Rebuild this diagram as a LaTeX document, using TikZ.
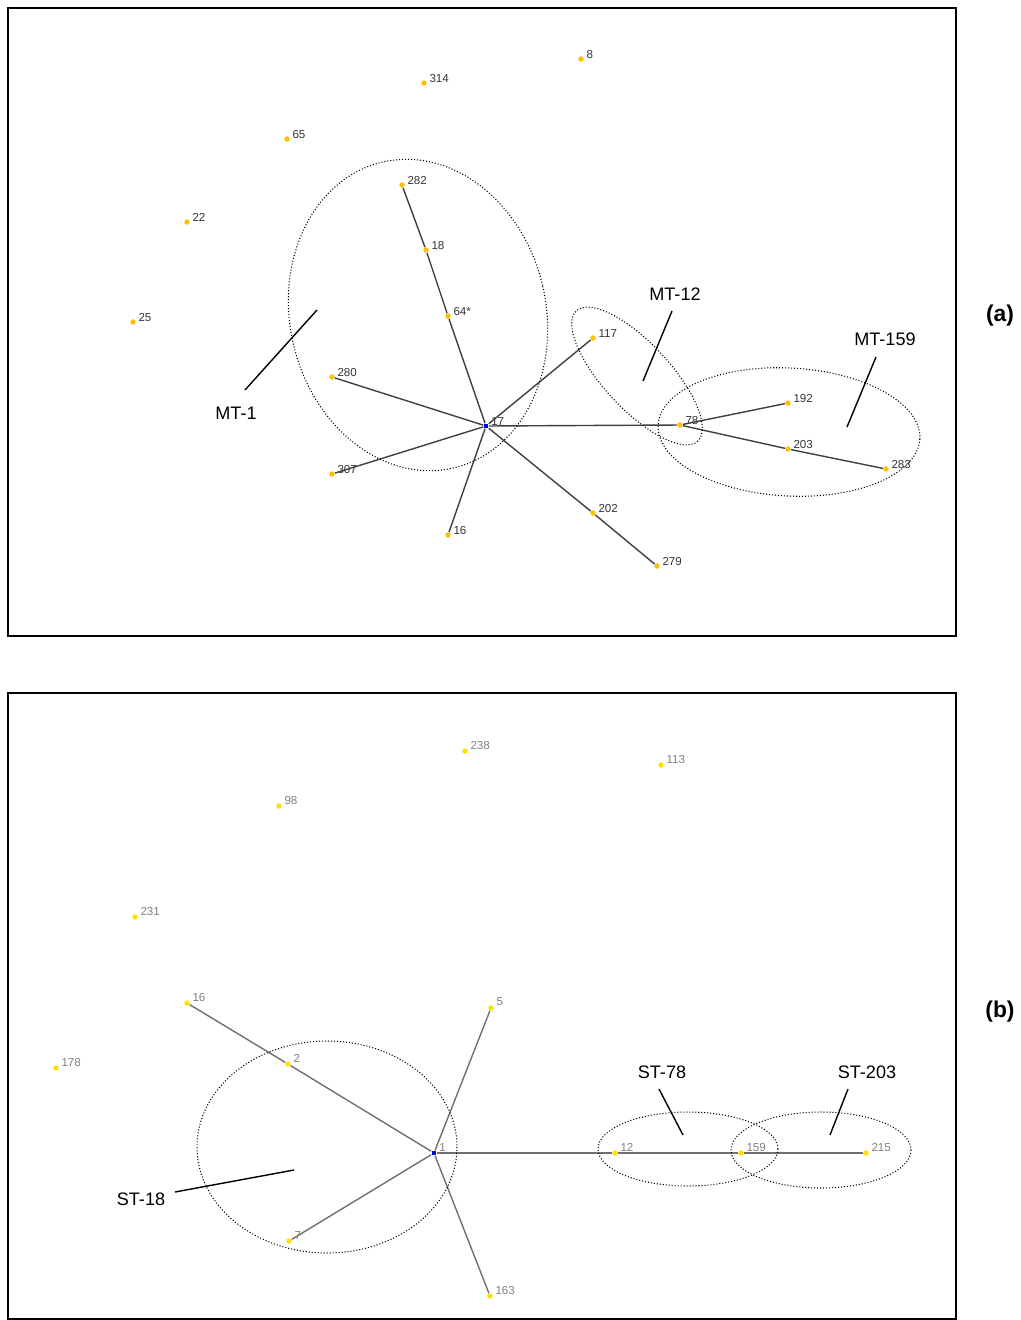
\documentclass[tikz,border=0pt]{standalone}
\usepackage{fontspec}
\setmainfont{Liberation Sans}
\definecolor{dota}{HTML}{FFC000}
\definecolor{dotb}{HTML}{FFE000}
\definecolor{edgea}{HTML}{404040}
\definecolor{edgeb}{HTML}{707070}
\begin{document}
\begin{tikzpicture}[x=0.02cm,y=-0.02cm,
    pta/.style={circle,fill=dota,inner sep=0pt,minimum size=3.1pt,
      label={[lbl]0:#1}},
    ptb/.style={circle,fill=dotb,inner sep=0pt,minimum size=3.1pt,
      label={[lblb]0:#1}},
    huba/.style={rectangle,fill=blue,inner sep=0pt,minimum size=2.8pt,
      label={[lbl]0:#1}},
    hubb/.style={rectangle,fill=blue,inner sep=0pt,minimum size=2.8pt,
      label={[lblb]0:#1}},
    lbl/.style={font=\fontsize{6.6}{7}\selectfont,text=black!80,inner sep=0pt,
      label distance=1.2pt,yshift=2.4pt},
    lblb/.style={lbl,text=black!50,yshift=1pt},
    ea/.style={edgea,line width=0.8pt},
    eb/.style={edgeb,line width=0.8pt},
    grp/.style={line width=0.6pt,dash pattern=on 0.6pt off 1.1pt},
    callout/.style={line width=0.8pt},
    mt/.style={font=\fontsize{10.3}{12}\selectfont},
    panel/.style={font=\fontsize{13}{15}\selectfont\bfseries}]
    \useasboundingbox (0,0) rectangle (1021,1320);
    % panel (a)
    \draw[line width=0.9pt] (8,8) rectangle (956,636);
    \node[pta=8] (a8) at (581,59) {};
    \node[pta=314] (a314) at (424,83) {};
    \node[pta=65] (a65) at (287,139) {};
    \node[pta=22] (a22) at (187,222) {};
    \node[pta=25] (a25) at (133,322) {};
    \node[pta=282] (a282) at (402,185) {};
    \node[pta=18] (a18) at (426,250) {};
    \node[pta=64*] (a64) at (448,316) {};
    \node[pta=280] (a280) at (332,377) {};
    \node[huba=17] (a17) at (486,426) {};
    \node[pta=307] (a307) at (332,474) {};
    \node[pta=16] (a16) at (448,535) {};
    \node[pta=117] (a117) at (593,338) {};
    \node[pta=78] (a78) at (680,425) {};
    \node[pta=192] (a192) at (788,403) {};
    \node[pta=203] (a203) at (788,449) {};
    \node[pta=283] (a283) at (886,469) {};
    \node[pta=202] (a202) at (593,513) {};
    \node[pta=279] (a279) at (657,566) {};
    \draw[ea] (a17)--(a64)--(a18)--(a282);
    \draw[ea] (a17)--(a280);
    \draw[ea] (a17)--(a307);
    \draw[ea] (a17)--(a16);
    \draw[ea] (a17)--(a117);
    \draw[ea] (a17)--(a78);
    \draw[ea] (a17)--(a202)--(a279);
    \draw[ea] (a78)--(a192);
    \draw[ea] (a78)--(a203)--(a283);
    \draw[grp,rotate around={13:(418,315)}] (418,315) ellipse [x radius=128,y radius=157];
    \draw[grp,rotate around={-47:(637,376)}] (637,376) ellipse [x radius=89,y radius=33];
    \draw[grp,rotate around={-3:(789,432)}] (789,432) ellipse [x radius=131,y radius=64];
    \node[mt] (mt1) at (236,413) {MT-1};
    \node[mt] (mt12) at (675,294) {MT-12};
    \node[mt] (mt159) at (885,339) {MT-159};
    \coordinate (mt1in) at (317,310);
    \coordinate (mt12in) at (643,381);
    \coordinate (mt159in) at (847,427);
    \draw[callout] (245,390)--(mt1in);
    \draw[callout] (672,311)--(mt12in);
    \draw[callout] (876,357)--(mt159in);
    \node[panel] (pa) at (1000,316) {(a)};
    % panel (b)
    \draw[line width=0.9pt] (8,693) rectangle (956,1319);
    \node[ptb=238] (b238) at (465,751) {};
    \node[ptb=113] (b113) at (661,765) {};
    \node[ptb=98] (b98) at (279,806) {};
    \node[ptb=231] (b231) at (135,917) {};
    \node[ptb=178] (b178) at (56,1068) {};
    \node[ptb=16] (b16) at (187,1003) {};
    \node[ptb=2] (b2) at (288,1064) {};
    \node[ptb=5] (b5) at (491,1008) {};
    \node[hubb=1] (b1) at (434,1153) {};
    \node[ptb=7] (b7) at (289,1241) {};
    \node[ptb=163] (b163) at (490,1296) {};
    \node[ptb=12] (b12) at (615,1153) {};
    \node[ptb=159] (b159) at (741,1153) {};
    \node[ptb=215] (b215) at (866,1153) {};
    \draw[eb] (b1)--(b2)--(b16);
    \draw[eb] (b1)--(b5);
    \draw[eb] (b1)--(b7);
    \draw[eb] (b1)--(b163);
    \draw[eb] (b1)--(b12)--(b159)--(b215);
    \draw[grp] (327,1147) ellipse [x radius=130,y radius=106];
    \draw[grp] (688,1149) ellipse [x radius=90,y radius=37];
    \draw[grp] (821,1150) ellipse [x radius=90,y radius=38];
    \node[mt] (st18) at (141,1199) {ST-18};
    \node[mt] (st78) at (662,1072) {ST-78};
    \node[mt] (st203) at (867,1072) {ST-203};
    \coordinate (st18in) at (294,1170);
    \coordinate (st78in) at (683,1135);
    \coordinate (st203in) at (830,1135);
    \draw[callout] (175,1192)--(st18in);
    \draw[callout] (659,1089)--(st78in);
    \draw[callout] (848,1089)--(st203in);
    \node[panel] (pb) at (1000,1012) {(b)};
\end{tikzpicture}
\end{document}
